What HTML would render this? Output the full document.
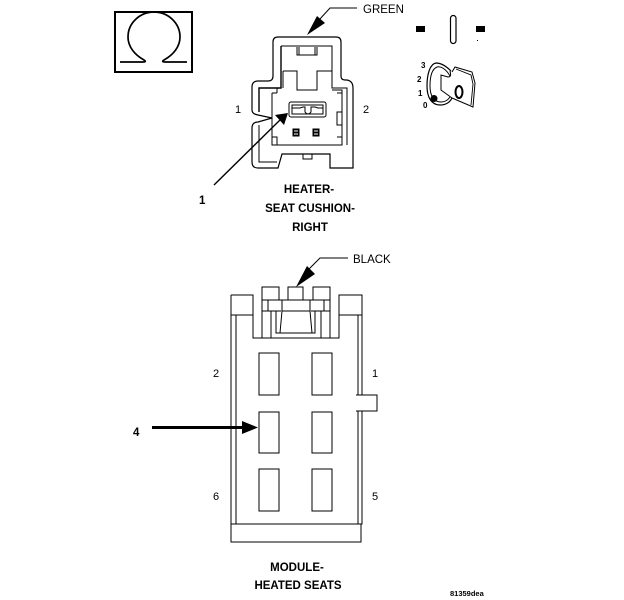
<!DOCTYPE html>
<html><head><meta charset="utf-8"><style>
html,body{margin:0;padding:0;background:#fff}
svg{display:block}
text{font-family:"Liberation Sans",sans-serif;fill:#000;font-size:11.5px}
.b{font-weight:bold;font-size:11.500px}
.n{font-size:11px}
.k{font-weight:bold;font-size:8px}
</style></head><body>
<svg width="624" height="600" viewBox="0 0 624 600" xmlns="http://www.w3.org/2000/svg">
<g fill="none" stroke="#000" stroke-width="1">
<!-- omega -->
<rect x="115" y="12" width="77" height="60" stroke-width="2"/>
<path d="M120 62H143Q147 62 144 60C135 55 128 47 128 37C128 23 140 12 154 12C168 12 180 23 180 37C180 47 173 55 164 60Q161 62 165 62H187" stroke-width="1.7"/>
<!-- upper connector outer -->
<path d="M278 37H336Q341 37 341 42V76Q341 80 345 80H347Q353 81 353 88V168H330V154H282L278 168H258Q252 168 252 162V128Q252 122 258 122L272 118L258 115Q252 114 252 110V87Q252 81 258 81H268Q273 81 273 76V42Q273 37 278 37Z" stroke-width="1.2"/>
<path d="M281 46H332V88H347V145"/>
<path d="M281 46V88H259V112" stroke-width="1.4"/>
<path d="M283 71V88M259 125V162H277"/>
<path d="M297 47V55H317V47M299 47V55M315 47V55"/>
<path d="M283 71H297V90H317V71H332"/>
<path d="M272 93H277M272 93V145H342V90H332M277 88V93M337 93H342M337 137H342V145M272 137H277V145M342 112H337V125H342"/>
<rect x="289" y="102" width="37" height="15" rx="2"/>
<path d="M292 105H323V114H292Z"/>
<path d="M292 108H300L303 107H305V112Q308 116 311 112V107H315L318 108H323"/>
<rect x="292.500" y="128.500" width="7" height="8" fill="#000" stroke="none"/>
<rect x="312.500" y="128.500" width="7" height="8" fill="#000" stroke="none"/>
<path d="M294 131H298M294 134H298M314 131H318M314 134H318" stroke="#fff"/>
<path d="M303 154V159H312V154"/>
<!-- green arrow -->
<path d="M357 8H330L319 20"/>
<polygon points="307,35 317,16 325,23" fill="#000" stroke="none"/>
<!-- arrow 1 -->
<path d="M214 185L280 120" stroke-width="1.4"/>
<polygon points="288,113 275,115 284,125" fill="#000" stroke="none"/>
<!-- key -->
<rect x="416" y="26" width="9" height="6" fill="#000" stroke="none"/>
<rect x="476" y="26" width="9" height="6" fill="#000" stroke="none"/>
<rect x="450.500" y="15.500" width="5.500" height="28" rx="2.700" stroke-width="1.2"/>
<rect x="477" y="40" width="1" height="1" fill="#000" stroke="none"/>
<path d="M451 71C446 66 441 63 436 63C430 64 427 74 427 86C427 98 432 105 440 105C446 105 450 102 452 98" stroke-width="1.2"/>
<path d="M450 76C446 69 441 66 437 67C432 69 430 76 430 86C430 96 434 102 441 102C445 102 448 100 450 97"/>
<path d="M450 71C451 75 451 77 448 77L441 75V90L452 98"/>
<path d="M452 72L455 67L472 72L475 83L473 107L452 98"/>
<path d="M456 69L471 75L473 84L471 105" stroke-width="0.9"/>
<ellipse cx="459" cy="92" rx="3.500" ry="6" stroke-width="2"/>
<circle cx="434" cy="98.500" r="3.500" fill="#000" stroke="none"/>
<!-- module body -->
<path d="M231 295H253V338H339V295H362V395H356M356 411H362V524H231V295M231 315H253M339 315H362M236 315V524M358 315V395M358 411V524M231 524H361V542H231V524M362 395H377V411H362"/>
<path d="M262 338V287H279V300M288 300V287H303V300M313 300V287H330V338M262 300H330"/>
<path d="M268 300V311H262M324 300V311H330M271 311V338M321 311V338M268 311H281M311 311H324"/>
<path d="M276 311V333H315V311M282 300V311L280 333M310 300V311L312 333M282 311H310"/>
<rect x="259" y="353" width="20" height="42"/>
<rect x="312" y="353" width="20" height="42"/>
<rect x="259" y="412" width="20" height="41"/>
<rect x="312" y="412" width="20" height="41"/>
<rect x="259" y="469" width="20" height="42"/>
<rect x="312" y="469" width="20" height="42"/>
<!-- black arrow -->
<path d="M348 258H320L308 270"/>
<polygon points="296,287 307,266 315,274" fill="#000" stroke="none"/>
<!-- arrow 4 -->
<path d="M152 427.500H245" stroke-width="3"/>
<polygon points="258,427.500 242,421 242,434" fill="#000" stroke="none"/>
</g>
<text x="363" y="13">GREEN</text>
<text class="n" x="235" y="113">1</text>
<text class="n" x="363" y="113">2</text>
<text class="b" x="199" y="204">1</text>
<text class="b" x="309" y="193" text-anchor="middle">HEATER-</text>
<text class="b" x="310" y="212" text-anchor="middle">SEAT CUSHION-</text>
<text class="b" x="310" y="231" text-anchor="middle">RIGHT</text>
<text x="353" y="263">BLACK</text>
<text class="n" x="213" y="377">2</text>
<text class="n" x="372" y="377">1</text>
<text class="n" x="213" y="500">6</text>
<text class="n" x="372" y="500">5</text>
<text class="b" x="133" y="436">4</text>
<text class="b" x="297" y="571" text-anchor="middle">MODULE-</text>
<text class="b" x="298" y="589" text-anchor="middle">HEATED SEATS</text>
<text class="b" x="450" y="596" style="font-size:7.500px">81359dea</text>
<text class="k" x="421" y="68">3</text>
<text class="k" x="417" y="82">2</text>
<text class="k" x="418" y="96">1</text>
<text class="k" x="423" y="108">0</text>
</svg>
</body></html>
